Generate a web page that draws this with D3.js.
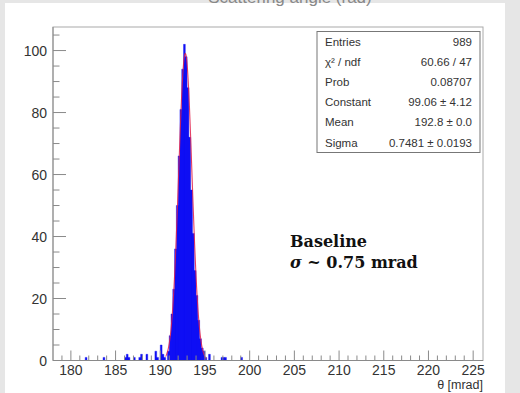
<!DOCTYPE html>
<html><head><meta charset="utf-8">
<script src="https://cdn.jsdelivr.net/npm/d3@7"></script>
<style>html,body{margin:0;padding:0;background:#e6e6e6;}svg{display:block;}</style>
</head><body>
<svg id="c" width="520" height="393"></svg>
<script>
// ---- data ----
const binWidth = 0.2;
const binCenters = [181.7,183.7,186.1,186.3,186.5,187.1,187.7,187.9,188.5,189.5,189.7,190.1,190.3,190.5,
  190.9,191.1,191.3,191.5,191.7,191.9,192.1,192.3,192.5,192.7,192.9,193.1,193.3,193.5,193.7,193.9,194.1,194.3,194.5,194.7,194.9,195.1,
  195.5,196.9,197.1,197.3,199.1];
const binCounts = [1,1,1,2,1,1,1,2,2,3,1,5,2,1,
  3,8,15,23,36,50,66,81,94,102,98,88,72,55,41,29,21,13,7,4,3,1,
  2,1,1,1,1];
const xTicks = [180,185,190,195,200,205,210,215,220,225];
const yTicks = [0,20,40,60,80,100];
const statLabels = ["Entries","χ² / ndf","Prob","Constant","Mean","Sigma"];
const statValues = ["989","60.66 / 47","0.08707","99.06 ± 4.12","192.8 ± 0.0","0.7481 ± 0.0193"];
const fitConstant = 99.06, fitMean = 192.8, fitSigma = 0.7481;
const fitRange = [190.6, 195.2];
const xDomain = [178, 226.1];
const yDomain = [0, 107.6];

const svg = d3.select("#c");
svg.append("rect").attr("x",5).attr("y",3).attr("width",500).attr("height",390).attr("fill","#fff");
// cut-off title
svg.append("text").attr("x",290).attr("y",3).attr("text-anchor","middle")
  .attr("font-family","Liberation Sans, Arial, sans-serif").attr("font-size",17).attr("fill","#888")
  .text("Scattering angle (rad)");

const L=53, R=483, T=27, B=360.5;
const x = d3.scaleLinear().domain(xDomain).range([L,R]);
const y = d3.scaleLinear().domain(yDomain).range([B,T]);

// frame
svg.append("rect").attr("x",L).attr("y",T).attr("width",R-L).attr("height",B-T)
  .attr("fill","none").attr("stroke","#aaa").attr("stroke-width",1);

// histogram as a single path (no seams)
let hp = "";
binCenters.forEach((c,i)=>{
  const x0=x(c-binWidth/2), x1=x(c+binWidth/2), yy=y(binCounts[i]);
  hp += `M${x0},${B}V${yy}H${x1}V${B}Z`;
});
svg.append("path").attr("d",hp).attr("fill","#1010f5").attr("stroke","#1010f5").attr("stroke-width",0.4);

// fit curve
const fx = d3.range(fitRange[0], fitRange[1], 0.02);
svg.append("path").datum(fx)
  .attr("d", d3.line().x(d=>x(d)).y(d=>y(fitConstant*Math.exp(-0.5*((d-fitMean)/fitSigma)**2))))
  .attr("fill","none").attr("stroke","#e0204a").attr("stroke-width",1.1).attr("opacity",0.85);

// x axis ticks (inside, upward)
const axCol="#8a8a8a";
const xMinor = d3.range(179,226,1);
svg.append("g").selectAll("line").data(xMinor).join("line")
  .attr("x1",d=>x(d)).attr("x2",d=>x(d)).attr("y1",B).attr("y2",d=>B-(d%5===0?10:5))
  .attr("stroke",axCol).attr("stroke-width",1);
svg.append("line").attr("x1",L).attr("x2",R).attr("y1",B).attr("y2",B).attr("stroke",axCol);
svg.append("g").selectAll("text").data(xTicks).join("text")
  .attr("x",d=>x(d)).attr("y",375).attr("text-anchor","middle")
  .attr("font-family","Liberation Sans, Arial, sans-serif").attr("font-size",14).attr("fill","#333")
  .text(d=>d);
svg.append("text").attr("x",R).attr("y",389).attr("text-anchor","end")
  .attr("font-family","Liberation Sans, Arial, sans-serif").attr("font-size",12.5).attr("fill","#333")
  .text("θ [mrad]");

// y axis ticks (inside, rightward)
const yMinor = d3.range(0,106,5);
svg.append("g").selectAll("line").data(yMinor).join("line")
  .attr("x1",L).attr("x2",d=>L+(d%20===0?13:6.5)).attr("y1",d=>y(d)).attr("y2",d=>y(d))
  .attr("stroke",axCol).attr("stroke-width",1);
svg.append("line").attr("x1",L).attr("x2",L).attr("y1",T).attr("y2",B).attr("stroke",axCol);
svg.append("g").selectAll("text").data(yTicks).join("text")
  .attr("x",47).attr("y",d=>y(d)+5).attr("text-anchor","end")
  .attr("font-family","Liberation Sans, Arial, sans-serif").attr("font-size",14).attr("fill","#333")
  .text(d=>d);

// stats box
const bx=317, by=31.5, bw=163, bh=121;
svg.append("rect").attr("x",bx).attr("y",by).attr("width",bw).attr("height",bh)
  .attr("fill","#fff").attr("stroke","#777").attr("stroke-width",1);
const sg = svg.append("g").attr("font-family","Liberation Sans, Arial, sans-serif").attr("font-size",11.5).attr("fill","#333");
statLabels.forEach((s,i)=>{
  const yy = by + 14 + i*20.2;
  sg.append("text").attr("x",bx+8).attr("y",yy).text(s);
  sg.append("text").attr("x",bx+bw-8).attr("y",yy).attr("text-anchor","end").text(statValues[i]);
});

// annotation
const ag = svg.append("g").attr("font-family","DejaVu Serif, serif").attr("font-weight","bold").attr("font-size",16).attr("fill","#111");
ag.append("text").attr("x",290).attr("y",247).text("Baseline");
const t2 = ag.append("text").attr("x",290).attr("y",268);
t2.append("tspan").attr("font-style","italic").text("σ");
t2.append("tspan").text(" ~ 0.75 mrad");
</script>
</body></html>
